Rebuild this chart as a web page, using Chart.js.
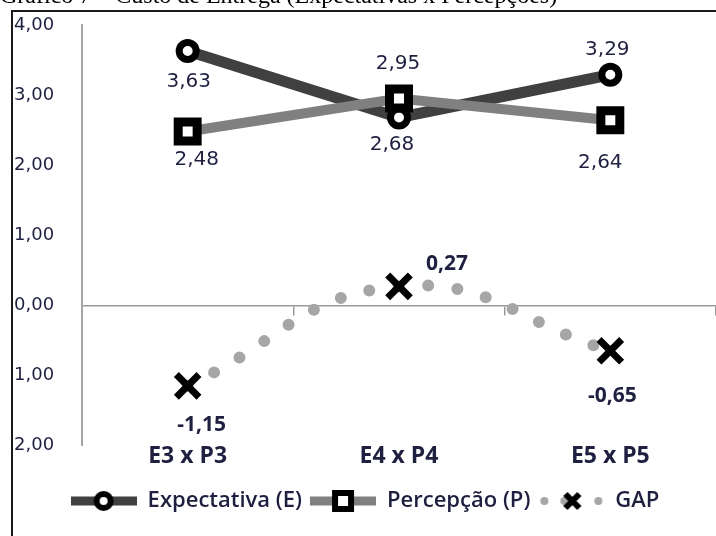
<!DOCTYPE html>
<html>
<head>
<meta charset="utf-8">
<script src="https://cdn.jsdelivr.net/npm/chart.js@4.4.1/dist/chart.umd.min.js"></script>
<style>
  html, body { margin: 0; padding: 0; background: #fff; }
  canvas { display: block; }
</style>
</head>
<body>
<canvas id="myChart" width="716" height="536"></canvas>
<script>
const titleText = 'Gráfico 7 – Custo de Entrega (Expectativas x Percepções)';
const categories = ['E3 x P3', 'E4 x P4', 'E5 x P5'];
const expectativa = [3.63, 2.68, 3.29];
const percepcao = [2.48, 2.95, 2.64];
const gap = [-1.15, 0.27, -0.65];
const seriesNames = ['Expectativa (E)', 'Percepção (P)', 'GAP'];

// where each value label sits relative to its point (dx, dy)
const offsetsE = [[1, 31], [-7, 27], [-3, -25]];
const offsetsP = [[9, 28], [-1, -35], [-10, 43]];
const offsetsGap = [[14, 39], [48, -22], [2, 45]];

const textColor = '#1f2040';

function fmt(v) {
  return v.toFixed(2).replace('.', ',');
}

// small canvases used as legend symbols
function legendIcon(kind) {
  const c = document.createElement('canvas');
  c.width = 66; c.height = 28;
  const g = c.getContext('2d');
  const cy = 14;
  if (kind === 'E' || kind === 'P') {
    g.strokeStyle = kind === 'E' ? '#404040' : '#808080';
    g.lineWidth = 9;
    g.beginPath(); g.moveTo(0, cy); g.lineTo(66, cy); g.stroke();
    g.fillStyle = '#fff';
    g.strokeStyle = '#000';
    g.lineWidth = 6;
    g.beginPath();
    if (kind === 'E') g.arc(33, cy, 7, 0, Math.PI * 2);
    else g.rect(25, cy - 8, 16, 16);
    g.fill(); g.stroke();
  } else {
    g.fillStyle = '#a6a6a6';
    [6, 26, 60].forEach(x => { g.beginPath(); g.arc(x, cy, 4, 0, Math.PI * 2); g.fill(); });
    g.strokeStyle = '#000';
    g.lineWidth = 6;
    g.beginPath();
    g.moveTo(27, cy - 7); g.lineTo(41, cy + 7);
    g.moveTo(41, cy - 7); g.lineTo(27, cy + 7);
    g.stroke();
  }
  return c;
}
const icons = [legendIcon('E'), legendIcon('P'), legendIcon('G')];

// value labels next to points
const valueLabels = {
  id: 'valueLabels',
  afterDatasetsDraw(chart) {
    const { ctx } = chart;
    ctx.save();
    ctx.textAlign = 'center';
    ctx.textBaseline = 'middle';
    ctx.fillStyle = textColor;
    chart.data.datasets.forEach((ds, i) => {
      const meta = chart.getDatasetMeta(i);
      ctx.font = ds.labelFont;
      meta.data.forEach((pt, j) => {
        const off = ds.labelOffsets[j];
        ctx.fillText(fmt(ds.data[j]), pt.x + off[0], pt.y + off[1]);
      });
    });
    ctx.restore();
  }
};

// outer frame and the clipped caption above it
const frame = {
  id: 'frame',
  afterDraw(chart) {
    const { ctx } = chart;
    ctx.save();
    ctx.fillStyle = '#000';
    ctx.font = '24px "Liberation Serif", serif';
    ctx.textBaseline = 'alphabetic';
    ctx.textAlign = 'left';
    ctx.fillText(titleText, 0, 3);
    ctx.strokeStyle = '#1a1a1a';
    ctx.lineWidth = 2;
    ctx.beginPath();
    ctx.moveTo(12, 536);
    ctx.lineTo(12, 11);
    ctx.lineTo(716, 11);
    ctx.stroke();
    ctx.restore();
  }
};

const ctx = document.getElementById('myChart');

const data = {
  labels: categories,
  datasets: [
    {
      label: seriesNames[0],
      data: expectativa,
      borderColor: '#404040',
      borderWidth: 11,
      pointStyle: 'circle',
      pointRadius: 8.5,
      pointBorderWidth: 7,
      pointBorderColor: '#000',
      pointBackgroundColor: '#fff',
      tension: 0,
      order: 3,
      labelOffsets: offsetsE,
      labelFont: '20px "DejaVu Sans", sans-serif'
    },
    {
      label: seriesNames[1],
      data: percepcao,
      borderColor: '#808080',
      borderWidth: 10,
      pointStyle: 'rect',
      pointRadius: 13.4,
      pointBorderWidth: 9,
      pointBorderColor: '#000',
      pointBackgroundColor: '#fff',
      tension: 0,
      order: 2,
      labelOffsets: offsetsP,
      labelFont: '20px "DejaVu Sans", sans-serif'
    },
    {
      label: seriesNames[2],
      data: gap,
      borderColor: '#a6a6a6',
      borderWidth: 12,
      borderDash: [0, 29.5],
      borderCapStyle: 'round',
      tension: 0.45,
      pointStyle: 'crossRot',
      pointRadius: 16,
      pointBorderWidth: 7,
      pointBorderColor: '#000',
      pointBackgroundColor: '#000',
      order: 1,
      labelOffsets: offsetsGap,
      labelFont: 'bold 21px "Open Sans", sans-serif'
    }
  ]
};

const config = {
  type: 'line',
  data: data,
  options: {
    responsive: false,
    animation: false,
    events: [],
    layout: { autoPadding: false, padding: { left: 14, right: 0, top: 25, bottom: 14 } },
    scales: {
      x: {
        offset: true,
        grid: { display: false },
        border: { display: false },
        afterFit(scale) { scale.height += 23; },
        ticks: {
          color: textColor,
          padding: -11,
          font: { family: '"Open Sans", sans-serif', size: 23, weight: 'bold' }
        }
      },
      x2: {
        type: 'category',
        labels: categories,
        offset: true,
        position: { y: 0 },
        grid: {
          offset: true,
          drawOnChartArea: false,
          tickLength: 9,
          color: '#9a9a9a',
          lineWidth: 1.5
        },
        border: { color: '#9a9a9a', width: 1.5 },
        ticks: { display: false }
      },
      y: {
        min: -2,
        max: 4,
        afterFit(scale) { scale.width = 68; },
        grid: { display: false, drawTicks: false },
        border: { color: '#a6a6a6', width: 2 },
        ticks: {
          stepSize: 1,
          crossAlign: 'far',
          padding: 0,
          color: textColor,
          font: { family: '"DejaVu Sans", sans-serif', size: 18 },
          // the minus signs are cut off by the frame in the original
          callback: v => fmt(Math.abs(v))
        }
      }
    },
    plugins: {
      tooltip: { enabled: false },
      legend: {
        position: 'bottom',
        labels: {
          usePointStyle: true,
          pointStyleWidth: 66,
          padding: 8,
          color: textColor,
          font: { family: '"Open Sans", sans-serif', size: 22, weight: '600' },
          generateLabels(chart) {
            return chart.data.datasets.map((ds, i) => ({
              text: ds.label,
              pointStyle: icons[i],
              fillStyle: 'transparent',
              strokeStyle: 'transparent',
              lineWidth: 0,
              hidden: false,
              datasetIndex: i,
              fontColor: textColor
            }));
          }
        }
      }
    }
  },
  plugins: [valueLabels, frame]
};

new Chart(ctx, config);
</script>
</body>
</html>
